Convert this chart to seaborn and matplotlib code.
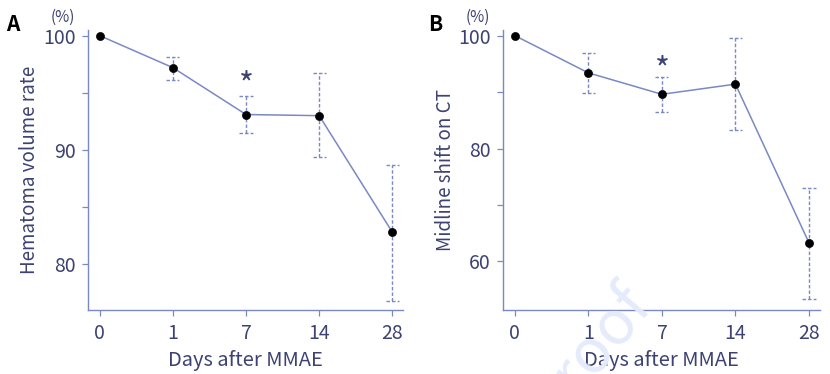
import matplotlib
matplotlib.use("Agg")
import matplotlib.pyplot as plt
import seaborn as sns
import numpy as np

# data
days = ["0", "1", "7", "14", "28"]

hematoma = [100.0, 97.2, 93.1, 93.0, 82.8]
hematoma_hi = [100.0, 98.1, 94.7, 96.7, 88.7]
hematoma_lo = [100.0, 96.1, 91.5, 89.4, 76.8]

midline = [100.0, 93.4, 89.6, 91.4, 63.3]
midline_hi = [100.0, 97.0, 92.6, 99.6, 73.0]
midline_lo = [100.0, 89.9, 86.5, 83.2, 53.4]

sns.set_style("ticks")
plt.rcParams["font.family"] = ["Noto Sans CJK JP", "DejaVu Sans"]

line_col = "#7a88c4"
text_col = "#3d4272"

fig = plt.figure(figsize=(8.3, 3.74), dpi=100)
axA = fig.add_axes([0.106, 0.171, 0.380, 0.749])
axB = fig.add_axes([0.606, 0.171, 0.382, 0.749])


def panel(ax, vals, hi, lo, ylabel, ylim, major, minor, star_y, letter, lx, ypad):
    x = np.arange(len(days))
    sns.lineplot(x=x, y=vals, ax=ax, color=line_col, lw=1.1, zorder=2)
    for xi, v, h, l in zip(x, vals, hi, lo):
        if h == l:
            continue
        ax.vlines(xi, l, h, colors=line_col, linestyles=(0, (2.5, 1.5)), lw=1.0, zorder=1)
        ax.hlines([l, h], xi - 0.09, xi + 0.09, colors=line_col,
                  linestyles=(0, (2.5, 1.5)), lw=1.0, zorder=1)
    sns.scatterplot(x=x, y=vals, ax=ax, color="black", s=34, edgecolor="black", zorder=3)
    ax.annotate("*", (2, star_y), xytext=(0, -7), textcoords="offset points",
                ha="center", va="center", fontsize=23, color=text_col)

    ax.set_xlim(-0.16, 4.15)
    ax.set_ylim(*ylim)
    ax.set_xticks(x)
    ax.set_xticklabels(days)
    ax.set_yticks(major)
    ax.set_yticks(minor, minor=True)
    sns.despine(ax=ax)
    for s in ["left", "bottom"]:
        ax.spines[s].set_color(line_col)
        ax.spines[s].set_linewidth(1.0)
    ax.tick_params(which="both", direction="out", length=4, width=0.9,
                   color=line_col, labelcolor=text_col, labelsize=14)
    ax.tick_params(axis="y", pad=5)
    ax.tick_params(axis="x", pad=5)
    ax.set_xlabel("Days after MMAE", fontsize=14.5, color=text_col, labelpad=5)
    ax.set_ylabel(ylabel, fontsize=13.5, color=text_col, labelpad=ypad)
    ax.text(-0.08, 1.045, "(%)", transform=ax.transAxes, fontsize=11,
            color=text_col, ha="center", va="center")
    ax.text(lx, 1.02, letter, transform=ax.transAxes, fontsize=15,
            fontweight="bold", color="black", ha="center", va="center")


panel(axA, hematoma, hematoma_hi, hematoma_lo, "Hematoma volume rate",
      (76.0, 100.5), [80, 90, 100], [85, 95], 96.5, "A", -0.24, 2)
panel(axB, midline, midline_hi, midline_lo, "Midline shift on CT",
      (51.4, 101.0), [60, 80, 100], [70, 90], 95.6, "B", -0.215, 1)

# faint watermark on the right panel
fig.text(0.71, 0.06, "Proof", fontsize=44, color="#e6ebfc", rotation=50,
         ha="center", va="center", zorder=0)

fig.savefig("out.png", dpi=100)
